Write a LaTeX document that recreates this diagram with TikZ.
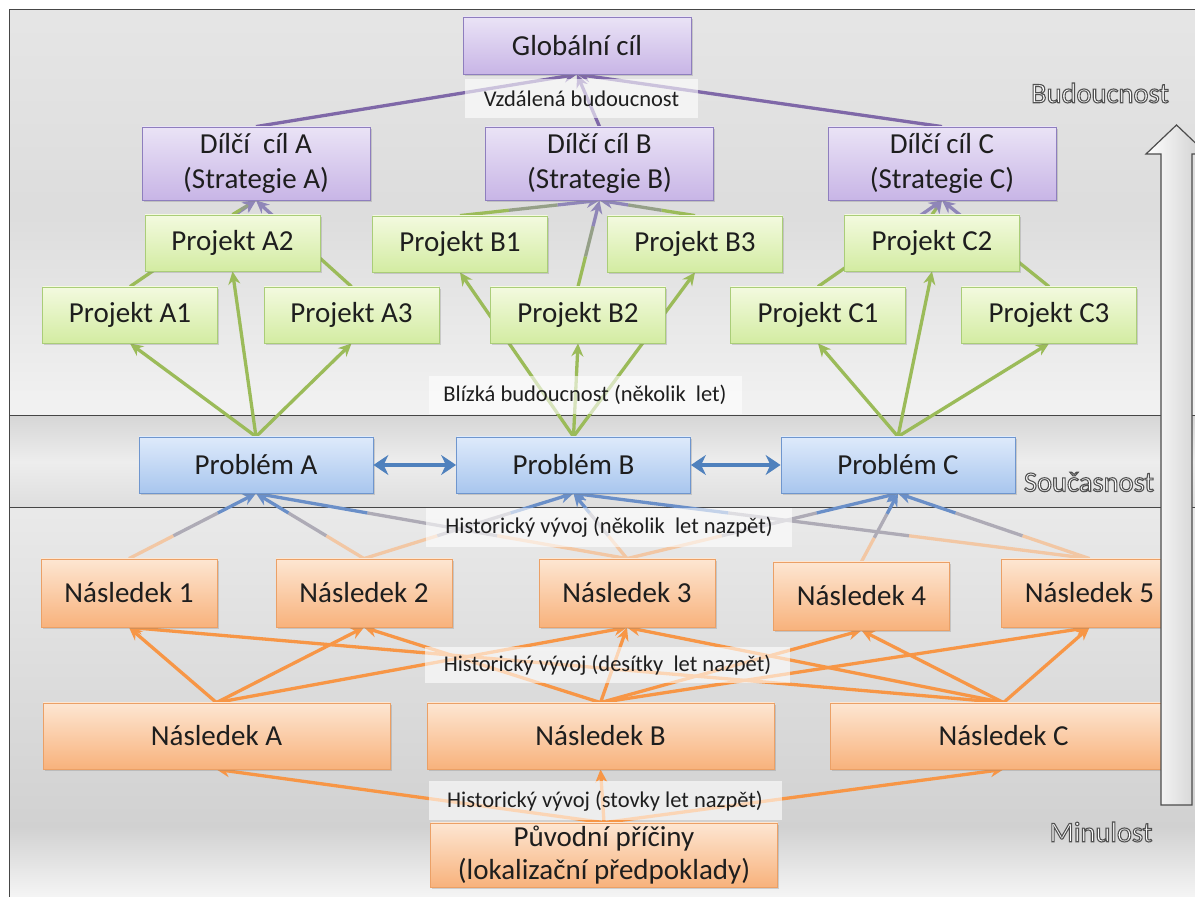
\documentclass[tikz,border=0pt]{standalone}
\usepackage{fontspec}
\setmainfont{Carlito}
\usetikzlibrary{arrows.meta,calc,shadows}

\definecolor{goaltop}{HTML}{EAE3F6}
\definecolor{goalbot}{HTML}{C8B5E6}
\definecolor{goaledge}{HTML}{8E7EBE}
\definecolor{projtop}{HTML}{F3FADF}
\definecolor{projbot}{HTML}{D3ECA2}
\definecolor{projedge}{HTML}{AACD78}
\definecolor{probtop}{HTML}{DEEAFB}
\definecolor{probbot}{HTML}{A8C6EE}
\definecolor{probedge}{HTML}{6F96CE}
\definecolor{efftop}{HTML}{FDE6D2}
\definecolor{effbot}{HTML}{F8B27C}
\definecolor{effedge}{HTML}{EBA066}
\definecolor{goalline}{HTML}{7F68A8}
\definecolor{goalfade}{HTML}{8F86B8}
\definecolor{projline}{HTML}{9BBB59}
\definecolor{probline}{HTML}{4F81BD}
\definecolor{probfade}{HTML}{6A8FC8}
\definecolor{effline}{HTML}{F79646}
\definecolor{efffade}{HTML}{F2C7A4}
\definecolor{ink}{HTML}{1E1E1E}

\pgfdeclarelayer{back}
\pgfdeclarelayer{links}
\pgfsetlayers{back,links,main}

% line whose colour runs from #3 to #4
\newcommand{\fadelink}[4]{%
  \draw[#3] (#1) -- ($(#1)!0.35!(#2)$);
  \draw[#3!50!#4] ($(#1)!0.35!(#2)$) -- ($(#1)!0.7!(#2)$);
  \draw[#4,-{Stealth[length=13pt,width=12pt]}] ($(#1)!0.7!(#2)$) -- (#2);
}

% white letters with a grey outline
\newcommand{\outlined}[1]{%
  \special{pdf:literal direct 2 Tr 1.1 w 0.32 0.32 0.32 RG}#1\special{pdf:literal direct 0 Tr}}

\begin{document}
\begin{tikzpicture}[x=1pt,y=1pt,
    box/.style={draw, line width=0.8pt, inner sep=0pt, align=center, text=ink,
      font=\fontsize{29}{35}\selectfont,
      drop shadow={shadow xshift=1.5pt, shadow yshift=-1.8pt, opacity=0.3}},
    goal/.style={box, draw=goaledge, top color=goaltop, bottom color=goalbot, minimum width=228pt},
    proj/.style={box, draw=projedge, top color=projtop, bottom color=projbot, minimum width=175pt, minimum height=56pt},
    prob/.style={box, draw=probedge, top color=probtop, bottom color=probbot, minimum width=234pt, minimum height=56pt},
    eff/.style={box, draw=effedge, top color=efftop, bottom color=effbot},
    era/.style={fill=white, fill opacity=0.6, text opacity=1, inner sep=0pt, text=ink,
      font=\fontsize{22.5}{27}\selectfont},
    timetext/.style={font=\fontsize{28.5}{32}\selectfont, inner sep=0pt, text=white},
    link/.style={line width=3.3pt},
  ]
\useasboundingbox (0,0) rectangle (1195,897);

% background bands
\begin{pgfonlayer}{back}
  \fill[white] (0,0) rectangle (1195,897);
  \shade[top color=gray!20, bottom color=gray!10, middle color=gray!27] (9,481) rectangle (1195,887);
  \shade[top color=gray!32, bottom color=gray!26, middle color=gray!14] (9,389.5) rectangle (1195,481);
  \shade[top color=gray!17, bottom color=gray!36] (9,70) rectangle (1195,389.5);
  \shade[top color=gray!36, bottom color=gray!8] (9,0) rectangle (1195,70);
  \draw[gray!55!black, line width=1pt] (9,481) -- (1195,481);
  \draw[gray!55!black, line width=1pt] (9,389.5) -- (1195,389.5);
  \draw[gray!55!black, line width=1pt] (9,0) -- (9,887) -- (1195,887);
\end{pgfonlayer}

% goals
\node[goal, minimum height=57pt] (glob) at (577,851.5) {Globální cíl};
\node[goal, minimum height=73pt] (dA) at (256,733.5) {Dílčí~ cíl A\\(Strategie A)};
\node[goal, minimum height=73pt] (dB) at (599.5,733.5) {Dílčí cíl B\\(Strategie B)};
\node[goal, minimum height=73pt] (dC) at (942,733.5) {Dílčí cíl C\\(Strategie C)};

% projects
\node[proj] (pA2) at (232.5,654) {Projekt A2};
\node[proj] (pB1) at (460,653) {Projekt B1};
\node[proj] (pB3) at (695,653) {Projekt B3};
\node[proj] (pC2) at (932,654) {Projekt C2};
\node[proj] (pA1) at (130,582) {Projekt A1};
\node[proj] (pA3) at (351.5,582) {Projekt A3};
\node[proj] (pB2) at (578,582) {Projekt B2};
\node[proj] (pC1) at (818,582) {Projekt C1};
\node[proj] (pC3) at (1049,582) {Projekt C3};

% problems
\node[prob] (prA) at (256,432) {Problém A};
\node[prob] (prB) at (573.5,432) {Problém B};
\node[prob] (prC) at (898,432) {Problém C};

% effects
\node[eff, minimum width=176pt, minimum height=68pt] (n1) at (129,304) {Následek 1};
\node[eff, minimum width=176pt, minimum height=68pt] (n2) at (364,304) {Následek 2};
\node[eff, minimum width=176pt, minimum height=68pt] (n3) at (627,304) {Následek 3};
\node[eff, minimum width=176pt, minimum height=68pt] (n4) at (861.5,301) {Následek 4};
\node[eff, minimum width=176pt, minimum height=68pt] (n5) at (1089.5,304) {Následek 5};
\node[eff, minimum width=347pt, minimum height=66pt] (nA) at (216.5,161) {Následek A};
\node[eff, minimum width=347pt, minimum height=66pt] (nB) at (600.5,161) {Následek B};
\node[eff, minimum width=347pt, minimum height=66pt] (nC) at (1003.5,161) {Následek C};
\node[eff, minimum width=347pt, minimum height=64pt, font=\fontsize{29}{33}\selectfont] (puv) at (604,42)
  {Původní příčiny\\(lokalizační předpoklady)};

% connectors
\begin{pgfonlayer}{links}
\begin{scope}[link]
  \draw[goalline, -{Stealth[length=13pt,width=12pt]}] (dA.north) -- (glob.south);
  \draw[goalline, -{Stealth[length=13pt,width=12pt]}] (dB.north) -- (glob.south);
  \draw[goalline, -{Stealth[length=13pt,width=12pt]}] (dC.north) -- (glob.south);
  \fadelink{pA1.north}{dA.south}{projline}{goalfade}
  \fadelink{pA2.north}{dA.south}{projline}{goalfade}
  \fadelink{pA3.north}{dA.south}{projline}{goalfade}
  \fadelink{pB1.north}{dB.south}{projline}{goalfade}
  \fadelink{pB2.north}{dB.south}{projline}{goalfade}
  \fadelink{pB3.north}{dB.south}{projline}{goalfade}
  \fadelink{pC1.north}{dC.south}{projline}{goalfade}
  \fadelink{pC2.north}{dC.south}{projline}{goalfade}
  \fadelink{pC3.north}{dC.south}{projline}{goalfade}
  \draw[projline, -{Stealth[length=13pt,width=12pt]}] (prA.north) -- (pA1.south);
  \draw[projline, -{Stealth[length=13pt,width=12pt]}] (prA.north) -- (pA2.south);
  \draw[projline, -{Stealth[length=13pt,width=12pt]}] (prA.north) -- (pA3.south);
  \draw[projline, -{Stealth[length=13pt,width=12pt]}] (prB.north) -- (pB1.south);
  \draw[projline, -{Stealth[length=13pt,width=12pt]}] (prB.north) -- (pB2.south);
  \draw[projline, -{Stealth[length=13pt,width=12pt]}] (prB.north) -- (pB3.south);
  \draw[projline, -{Stealth[length=13pt,width=12pt]}] (prC.north) -- (pC1.south);
  \draw[projline, -{Stealth[length=13pt,width=12pt]}] (prC.north) -- (pC2.south);
  \draw[projline, -{Stealth[length=13pt,width=12pt]}] (prC.north) -- (pC3.south);
  \fadelink{n1.north}{prA.south}{efffade}{probfade}
  \fadelink{n2.north}{prA.south}{efffade}{probfade}
  \fadelink{n2.north}{prB.south}{efffade}{probfade}
  \fadelink{n3.north}{prA.south}{efffade}{probfade}
  \fadelink{n3.north}{prB.south}{efffade}{probfade}
  \fadelink{n3.north}{prC.south}{efffade}{probfade}
  \fadelink{n4.north}{prC.south}{efffade}{probfade}
  \fadelink{n5.north}{prB.south}{efffade}{probfade}
  \fadelink{n5.north}{prC.south}{efffade}{probfade}
  \draw[effline, -{Stealth[length=13pt,width=12pt]}] (nA.north) -- (n1.south);
  \draw[effline, -{Stealth[length=13pt,width=12pt]}] (nA.north) -- (n2.south);
  \draw[effline, -{Stealth[length=13pt,width=12pt]}] (nA.north) -- (n3.south);
  \draw[effline, -{Stealth[length=13pt,width=12pt]}] (nB.north) -- (n2.south);
  \draw[effline, -{Stealth[length=13pt,width=12pt]}] (nB.north) -- (n3.south);
  \draw[effline, -{Stealth[length=13pt,width=12pt]}] (nB.north) -- (n4.south);
  \draw[effline, -{Stealth[length=13pt,width=12pt]}] (nB.north) -- (n5.south);
  \draw[effline, -{Stealth[length=13pt,width=12pt]}] (nC.north) -- (n1.south);
  \draw[effline, -{Stealth[length=13pt,width=12pt]}] (nC.north) -- (n3.south);
  \draw[effline, -{Stealth[length=13pt,width=12pt]}] (nC.north) -- (n4.south);
  \draw[effline, -{Stealth[length=13pt,width=12pt]}] (nC.north) -- (n5.south);
  \draw[effline, -{Stealth[length=13pt,width=12pt]}] (puv.north) -- (nA.south);
  \draw[effline, -{Stealth[length=13pt,width=12pt]}] (puv.north) -- (nB.south);
  \draw[effline, -{Stealth[length=13pt,width=12pt]}] (puv.north) -- (nC.south);
\end{scope}
\end{pgfonlayer}

% links between the problems
\draw[probline, line width=4.5pt, {Stealth[length=15pt,width=20pt]}-{Stealth[length=15pt,width=20pt]}] (prA) -- (prB);
\draw[probline, line width=4.5pt, {Stealth[length=15pt,width=20pt]}-{Stealth[length=15pt,width=20pt]}] (prB) -- (prC);

% era labels
\node[era, minimum width=233pt, minimum height=39pt] (vzd) at (581.5,798.5) {Vzdálená budoucnost};
\node[era, minimum width=313pt, minimum height=38pt] (bliz) at (585,502) {Blízká budoucnost (několik~ let)};
\node[era, minimum width=366pt, minimum height=39pt] (hist1) at (609,369.5) {Historický vývoj (několik~ let nazpět)};
\node[era, minimum width=365pt, minimum height=36pt] (hist2) at (607.5,232) {Historický vývoj (desítky~ let nazpět)};
\node[era, minimum width=353pt, minimum height=39pt] (hist3) at (605,96) {Historický vývoj (stovky let nazpět)};

% time axis
\node[timetext] (bud) at (1100,804) {\outlined{Budoucnost}};
\node[timetext] (souc) at (1089,415) {\outlined{Současnost}};
\node[timetext] (min) at (1101,65) {\outlined{Minulost}};
\draw[gray!60!black, line width=1.2pt, left color=white, right color=gray!40]
  (1161,92) -- (1161,743) -- (1146,743) -- (1176.5,772) -- (1207,743) -- (1192,743) -- (1192,92) -- cycle;
\end{tikzpicture}
\end{document}
